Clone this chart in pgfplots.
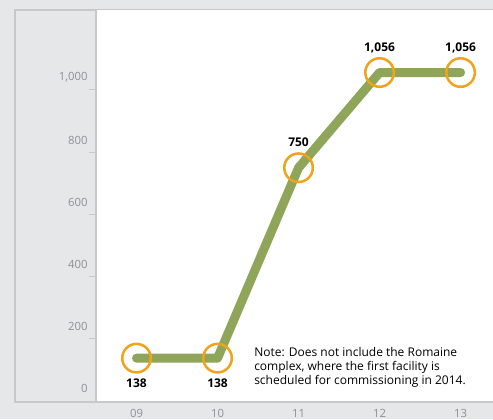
\documentclass[border=0pt]{standalone}
\usepackage{pgfplots}
\pgfplotsset{compat=1.18}
\usepackage{fontspec}
\setmainfont{Open Sans}
\definecolor{bgGray}{HTML}{E6E7E8}
\definecolor{frameGray}{HTML}{C7C8CA}
\definecolor{tickGray}{HTML}{8E9093}
\definecolor{lineGreen}{HTML}{8FA55A}
\definecolor{ringOrange}{HTML}{F0A31C}
\begin{document}
\begin{tikzpicture}
\useasboundingbox (0,0) rectangle (369.75pt,314.25pt);
\clip (0,0) rectangle (369.75pt,314.25pt);
\fill[bgGray] (0,0) rectangle (369.75pt,314.25pt);
% frame
\draw[frameGray, line width=0.8pt] (369.75pt,306.75pt) -- (11.25pt,306.75pt) -- (11.25pt,12.75pt) -- (369.75pt,12.75pt);
\begin{axis}[
    at={(72pt,12.75pt)}, anchor=south west,
    scale only axis,
    width=297.75pt, height=294pt,
    xmin=-0.5, xmax=4.4,
    ymin=-3, ymax=1257,
    axis background/.style={fill=white},
    axis x line=bottom, axis y line=left,
    axis line style={-, frameGray, line width=0.8pt},
    xtick={0,1,2,3,4},
    xticklabels={09,10,11,12,13},
    x tick style={draw=none},
    ytick={0,200,400,600,800,1000},
    y tick style={frameGray, line width=0.8pt},
    tick align=outside,
    major tick length=5.25pt,
    /pgf/number format/assume math mode=true,
    /pgf/number format/1000 sep={,},
    tick label style={font=\fontsize{8.5}{10}\selectfont, text=tickGray},
    yticklabel style={anchor=south east, yshift=2.5pt, xshift=2.5pt},
    xticklabel style={anchor=north, yshift=3pt},
    clip=false,
]
\addplot[lineGreen, line width=6.75pt, line cap=round, line join=round] coordinates {
    (0,138) (1,138) (2,750) (3,1056) (4,1056)
};
\addplot[only marks, mark=o, mark size=10.7pt, ringOrange, mark options={line width=1.9pt}] coordinates {
    (0,138) (1,138) (2,750) (3,1056) (4,1056)
};
\node[font=\bfseries\fontsize{9}{10}\selectfont, yshift=-19pt] at (axis cs:0,138) {138};
\node[font=\bfseries\fontsize{9}{10}\selectfont, yshift=-19pt] at (axis cs:1,138) {138};
\node[font=\bfseries\fontsize{9}{10}\selectfont, yshift=19pt] at (axis cs:2,750) {750};
\node[font=\bfseries\fontsize{9}{10}\selectfont, yshift=18.5pt] at (axis cs:3,1056) {1,056};
\node[font=\bfseries\fontsize{9}{10}\selectfont, yshift=18.5pt] at (axis cs:4,1056) {1,056};
\end{axis}
\node[anchor=north west, align=left, inner sep=0pt, font=\fontsize{9}{10.5}\selectfont] at (190.5pt,54pt)
  {Note: Does not include the Romaine\\complex, where the first facility is\\scheduled for commissioning in 2014.};
\end{tikzpicture}
\end{document}
